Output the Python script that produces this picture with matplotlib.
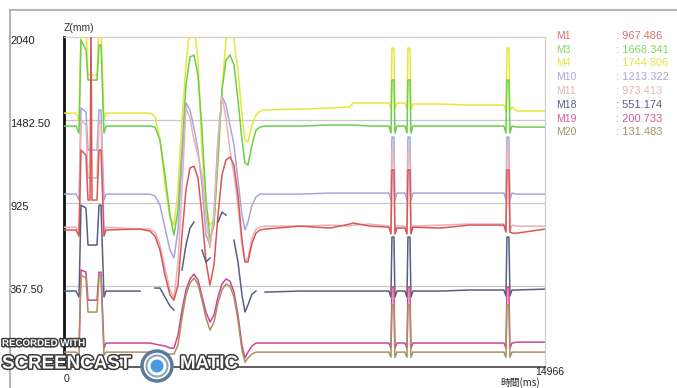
import matplotlib
matplotlib.use("Agg")
import matplotlib.pyplot as plt
import matplotlib.patheffects as pe
from matplotlib.lines import Line2D
from matplotlib.patches import Circle
from matplotlib.transforms import offset_copy

nan = float("nan")

# ---------------- data ----------------
# shared time grid (ms)
t_ms = [0, 373, 467, 529, 684, 747, 809, 840, 871, 1027, 1089, 1151, 1244, 1307,
        2364, 2675, 2831, 2987, 3142, 3298, 3422, 3547, 3671, 3795, 3920, 4044, 4169, 4293,
        4418, 4542, 4667, 4791, 4915, 5040, 5164, 5289, 5413, 5538, 5631, 5724, 5849, 5973,
        6098, 6253,
        7342, 8275, 8897, 8990, 9520,
        10110, 10173, 10204, 10266, 10297, 10360,
        10608, 10671, 10702, 10764, 10795, 10858,
        11697, 12631,
        13688, 13751, 13782, 13844, 13875, 13938,
        14093, 14966]

m4 = [1529, 1529, 1482, 2120, 2120, 1785, 1785, 1785, 1785, 1785, 2120, 2120, 1482, 1529,
      1529, 1529, 1509, 1348, 1046, 824, 777, 1012, 1482, 1852, 2120, 2120, 1885, 1281,
      911, 777, 811, 1214, 1684, 2020, 2120, 2020, 1818, 1516, 1348, 1335, 1449, 1516,
      1543, 1550,
      1556, 1563, 1570, 1597, 1597,
      1597, 1556, 1966, 1966, 1556, 1597,
      1597, 1556, 1966, 1966, 1556, 1590,
      1590, 1583,
      1583, 1543, 1966, 1966, 1543, 1570,
      1543, 1543]

m3 = [1442, 1442, 1395, 2020, 1953, 1751, 1751, 1751, 1751, 1751, 1986, 1986, 1395, 1442,
      1442, 1442, 1435, 1348, 1113, 844, 710, 878, 1281, 1718, 1906, 1919, 1785, 1415,
      945, 676, 777, 1214, 1684, 1885, 1919, 1852, 1617, 1348, 1194, 1180, 1315, 1415,
      1435, 1442,
      1442, 1449, 1449, 1449, 1442,
      1442, 1395, 1751, 1751, 1395, 1442,
      1442, 1395, 1751, 1751, 1395, 1442,
      1442, 1442,
      1442, 1395, 1751, 1751, 1395, 1442,
      1435, 1435]

m10 = [985, 985, 945, 1563, 1536, 1281, 1281, 1281, 1281, 1281, 1550, 1550, 945, 985,
       985, 985, 972, 911, 757, 609, 556, 744, 1214, 1597, 1550, 1429, 1281, 1046,
       710, 643, 844, 1348, 1644, 1583, 1449, 1315, 1079, 844, 744, 797, 911, 965,
       985, 985,
       985, 992, 992, 992, 992,
       992, 945, 1368, 1368, 945, 992,
       992, 945, 1368, 1368, 945, 992,
       992, 992,
       992, 945, 1368, 1368, 945, 992,
       985, 985]

m11 = [763, 763, 730, 1482, 1449, 1093, 1093, 1093, 1093, 1093, 1469, 1469, 730, 763,
       750, 750, 730, 643, 488, 341, 287, 529, 1012, 1563, 1496, 1348, 1247, 1113,
       844, 623, 844, 1348, 1637, 1496, 1281, 1113, 911, 643, 529, 556, 690, 750,
       763, 770,
       770, 777, 770, 777, 784,
       770, 730, 1281, 1281, 730, 770,
       770, 730, 1281, 1281, 730, 770,
       777, 784,
       784, 730, 1281, 1281, 730, 777,
       770, 770]

m1 = [744, 744, 703, 1281, 1247, 945, 945, 2120, 945, 945, 1281, 1281, 703, 744,
      750, 737, 703, 609, 441, 307, 273, 374, 710, 1012, 1160, 1173, 1093, 844,
      529, 374, 509, 844, 1113, 1214, 1234, 1180, 979, 676, 529, 529, 656, 723,
      744, 750,
      770, 757, 784, 791, 770,
      763, 717, 1147, 1147, 717, 757,
      757, 717, 1147, 1147, 717, 763,
      757, 777,
      777, 730, 1147, 1147, 730, 723,
      723, 750]

# M18 is drawn broken (gaps) through the dip region, as in the reference
m18 = [334, 334, 294, 911, 891, 643, 643, 643, 643, 643, 911, 911, 294, 334,
       334, nan, 354, 354, 294, 233, 206, nan, 475, 643, 757, 797, nan, 609,
       529, 556, nan, 797, 864, 844, nan, 676, 529, 307, 193, 240, 314, 334,
       nan, 327,
       334, 334, 334, 334, 334,
       334, 294, 697, 697, 294, 334,
       334, 294, 697, 697, 294, 334,
       334, 341,
       341, 301, 697, 697, 301, 341,
       341, 347]

m19 = [-15, -15, -49, 475, 461, 273, 273, 273, 273, 273, 461, 461, -49, -15,
       -15, -15, -22, -29, -35, -49, -49, 38, 206, 341, 415, 448, 408, 300,
       193, 126, 173, 294, 381, 415, 401, 327, 173, -29, -116, -76, -35, -15,
       -15, -15,
       -15, -15, -15, -15, -15,
       -15, -49, 361, 361, -49, -15,
       -15, -49, 361, 361, -49, -15,
       -15, -15,
       -15, -49, 361, 361, -49, -15,
       -9, -9]

m20 = [-76, -76, -96, 441, 421, 193, 193, 193, 193, 193, 441, 441, -96, -76,
       -76, -76, -76, -76, -83, -89, -89, -29, 153, 307, 388, 421, 381, 273,
       153, 72, 126, 253, 341, 381, 367, 294, 139, -63, -143, -116, -89, -76,
       -76, -76,
       -76, -76, -76, -76, -76,
       -76, -110, 240, 240, -110, -76,
       -76, -110, 240, 240, -110, -76,
       -76, -76,
       -76, -110, 240, 240, -110, -76,
       -76, -76]

names = ["M1", "M3", "M4", "M10", "M11", "M18", "M19", "M20"]
readouts = ["967.486", "1668.341", "1744.806", "1213.322", "973.413", "551.174", "200.733", "131.483"]
ytick_vals = [2040, 1482.5, 925, 367.5]
ytick_labels = ["2040", "1482.50", "925", "367.50"]
x_max = 14966

colors = {
    "M1": "#dc5656", "M3": "#6ccf4a", "M4": "#e6e63a", "M10": "#a6a6de",
    "M11": "#e8b2b2", "M18": "#5a5e82", "M19": "#d2458f", "M20": "#a89062",
}
text_colors = {
    "M1": "#e07070", "M3": "#80dc60", "M4": "#e4e450", "M10": "#a8a8dc",
    "M11": "#e4b8b8", "M18": "#5a5e80", "M19": "#d45a9a", "M20": "#a8906a",
}
series = {"M4": m4, "M3": m3, "M10": m10, "M11": m11, "M1": m1,
          "M18": m18, "M19": m19, "M20": m20}

# ---------------- figure ----------------
W, H = 677, 388
fig = plt.figure(figsize=(W / 100, H / 100), dpi=100)
fig.patch.set_facecolor("white")
plt.rcParams["font.family"] = ["Liberation Sans", "DejaVu Sans"]

def fx(px):
    return px / W

def fy(py):
    return 1 - py / H

ax = fig.add_axes([fx(64), fy(367), fx(545) - fx(64), fy(37) - fy(367)])
ax.set_xlim(0, x_max)
ax.set_ylim(-176, 2040)

for y in ytick_vals[1:]:
    ax.axhline(y, color="#c8c8c8", lw=0.9, zorder=1)

for name, vals in series.items():
    ax.plot(t_ms, vals, color=colors[name], lw=1.1, zorder=3, solid_joinstyle="round")

ax.set_xticks([])
ax.set_yticks([])
ax.spines["left"].set_color("#111111")
ax.spines["left"].set_linewidth(2.0)
ax.spines["bottom"].set_color("#444444")
ax.spines["bottom"].set_linewidth(1.2)
ax.spines["top"].set_color("#cfcfcf")
ax.spines["right"].set_color("#cfcfcf")
ax.spines["top"].set_linewidth(0.9)
ax.spines["right"].set_linewidth(0.9)

# y tick labels, left aligned near figure edge
ytrans = offset_copy(ax.get_yaxis_transform(), fig=fig, y=-4, units="dots")
for v, lab in zip(ytick_vals, ytick_labels):
    ax.text((10 - 64) / 481, v, lab, transform=ytrans, ha="left", va="center",
            fontsize=8, color="#222222", clip_on=False)

# x tick labels
fig.text(fx(66), fy(379), "0", ha="center", va="center",
         fontsize=7.5, color="#222222", zorder=12)
fig.text(fx(550), fy(377), "14966", ha="center", va="bottom", fontsize=7.5,
         color="#222222")
fig.text(fx(520), fy(388), "時間(ms)", ha="center", va="bottom", fontsize=7,
         family=["Noto Sans CJK JP", "DejaVu Sans"], color="#222222")
fig.text(fx(64), fy(28), "Z(mm)", ha="left", va="center", fontsize=7.5, color="#333333")

# legend / readouts
rows = [36, 50, 63, 77, 91, 105, 119, 132]
for name, val, ry in zip(names, readouts, rows):
    fig.text(fx(556), fy(ry), name, ha="left", va="center", fontsize=7.5,
             color=text_colors[name])
    fig.text(fx(616), fy(ry), ": " + val, ha="left", va="center", fontsize=8,
             color=text_colors[name])

# outer window frame
fig.add_artist(Line2D([fx(10), 1], [fy(10), fy(10)], transform=fig.transFigure,
                      color="#a8a8a8", lw=1.2))
fig.add_artist(Line2D([fx(10), fx(10)], [fy(10), 0], transform=fig.transFigure,
                      color="#a8a8a8", lw=1.2))

# watermark
stroke = [pe.withStroke(linewidth=2.2, foreground="#3c3c3c")]
fig.text(fx(2), fy(343), "RECORDED WITH", ha="left", va="center", fontsize=7,
         fontweight="bold", color="white", path_effects=stroke, zorder=10)
fig.text(fx(2), fy(364), "SCREENCAST", ha="left", va="center", fontsize=13.5,
         fontweight="bold", color="white", path_effects=stroke, zorder=10)
fig.text(fx(180), fy(364), "MATIC", ha="left", va="center", fontsize=13.5,
         fontweight="bold", color="white", path_effects=stroke, zorder=10)
cx, cy = 157 / 100, (H - 366) / 100
ring = Circle((cx, cy), 0.15, transform=fig.dpi_scale_trans, facecolor="white",
              edgecolor="#5a7a9a", lw=2.5, zorder=9)
fig.add_artist(ring)
dot = Circle((cx, cy), 0.065, transform=fig.dpi_scale_trans,
             facecolor="#4a9ae0", edgecolor="none", zorder=10)
fig.add_artist(dot)
ring2 = Circle((cx, cy), 0.105, transform=fig.dpi_scale_trans,
               facecolor="none", edgecolor="#8aa6c0", lw=1.5, zorder=10)
fig.add_artist(ring2)

fig.savefig("out.png", dpi=100, facecolor="white")
